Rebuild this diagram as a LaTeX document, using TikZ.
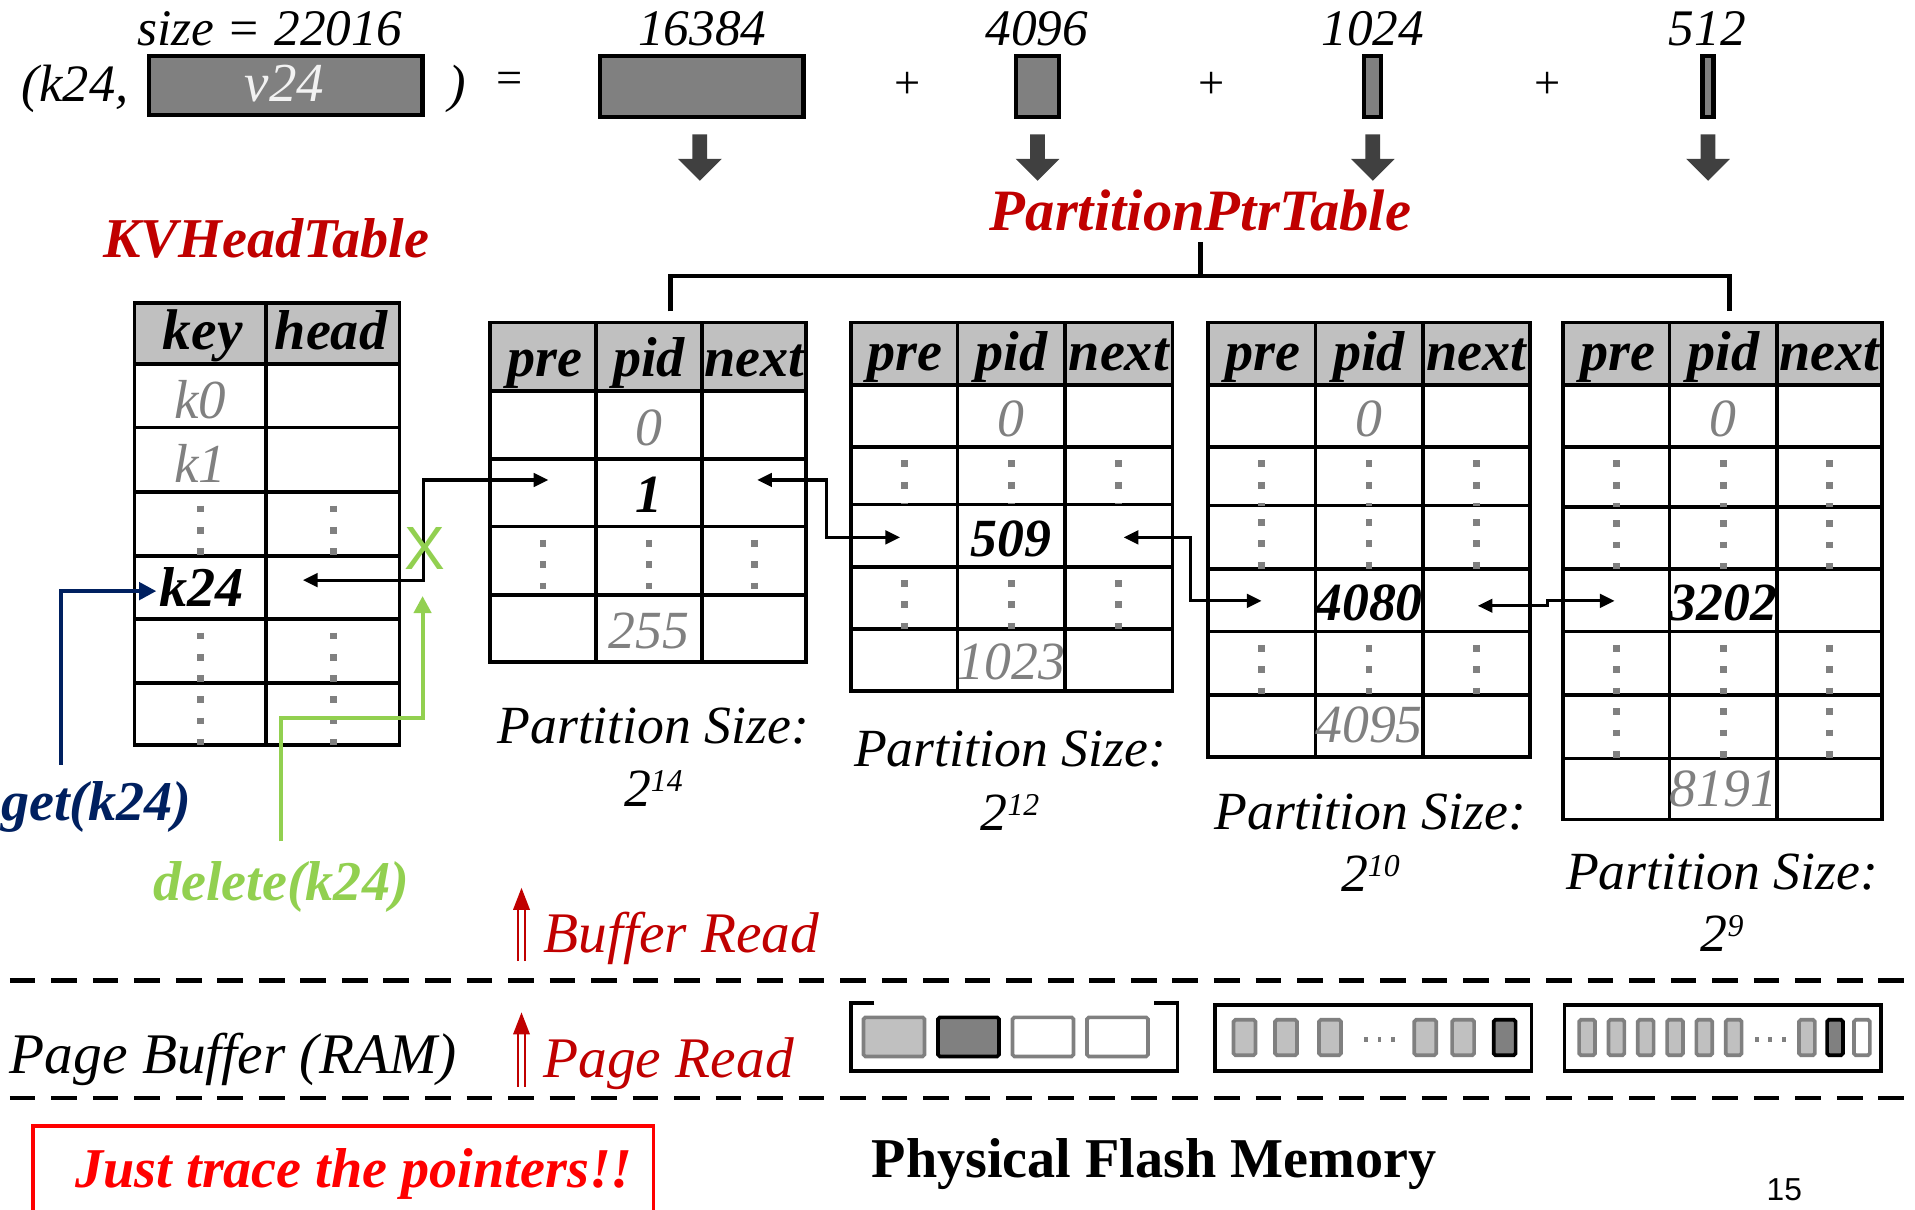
\documentclass[tikz,border=0pt]{standalone}
\usepackage{fontspec}
\setmainfont{Liberation Serif}
\newfontfamily\sansf{Liberation Sans}
\usetikzlibrary{arrows.meta}
\definecolor{hdrgray}{HTML}{C0C0C0}
\definecolor{midgray}{HTML}{808080}
\definecolor{dkgray}{HTML}{404040}
\definecolor{dkred}{HTML}{C00000}
\definecolor{brred}{HTML}{FF0000}
\definecolor{navy}{HTML}{002060}
\definecolor{lgreen}{HTML}{92D050}
\definecolor{offwhite}{HTML}{F2F2F2}
\newcommand\fsz[1]{\fontsize{#1}{#1}\selectfont}
\newcommand\blockarrow[1]{\fill[dkgray] (#1-6,110) -- (#1+6,110) -- (#1+6,130) -- (#1+18,130) -- (#1,148) -- (#1-18,130) -- (#1-6,130) -- cycle;}
\newcommand\dotcell[3]{\draw[dotcol] (#1,#2+11) -- (#1,#3);}
\newcommand\supnum[2]{#1\raisebox{12pt}{\fsz{26}#2}}
\begin{document}
\begin{tikzpicture}[x=1pt,y=-1pt,
  every node/.style={inner sep=0pt,outer sep=0pt,anchor=base},
  tline/.style={line width=3pt,line cap=rect},
  dotcol/.style={draw=midgray,line width=5.5pt,dash pattern=on 5.5pt off 12pt},
  hdrtxt/.style={font=\fsz{46}\bfseries\itshape},
  graynum/.style={font=\fsz{44}\itshape,text=midgray},
  boldnum/.style={font=\fsz{44}\bfseries\itshape},
  itxt/.style={font=\fsz{44}\itshape},
  valbox/.style={draw=black,line width=3.5pt,fill=midgray},
  conn/.style={line width=2.5pt,{Triangle[length=12pt,width=11pt]}-{Triangle[length=12pt,width=11pt]}},
  getconn/.style={draw=navy,line width=3.3pt,-{Triangle[length=14pt,width=14pt]}},
  delconn/.style={draw=lgreen,line width=3.3pt,-{Triangle[length=14pt,width=14pt]}},
  dashsep/.style={line width=4pt,dash pattern=on 21pt off 13pt},
  bufsq/.style={line width=3pt,rounded corners=1.5pt},
  redarrow/.style={draw=dkred,line width=1.6pt}
]
\useasboundingbox (0,0) rectangle (1568,990);

% ---------- top row ----------
\node[font=\fsz{42}\itshape,anchor=base] (sizelbl) at (221,37) {size = 22016};
\node[font=\fsz{43}\itshape,anchor=base west] (kpar) at (18,83) {(k24,};
\draw[valbox] (122,46) rectangle (346,94);
\node[font=\fsz{45}\itshape,text=offwhite] (v24) at (233,83) {v24};
\node[font=\fsz{43}\itshape] (rpar) at (374,83) {)};
\node[font=\fsz{38},anchor=center] (eq) at (417,68) {=};

\node[font=\fsz{42}\itshape] (n16384) at (575,37) {16384};
\draw[valbox] (491,46) rectangle (658,96);
\node[font=\fsz{38},anchor=center] (p1) at (743,70) {+};
\node[font=\fsz{42}\itshape] (n4096) at (849,37) {4096};
\draw[valbox] (832,46) rectangle (867,96);
\node[font=\fsz{38},anchor=center] (p2) at (992,70) {+};
\node[font=\fsz{42}\itshape] (n1024) at (1124,37) {1024};
\draw[valbox] (1117,46) rectangle (1131,96);
\node[font=\fsz{38},anchor=center] (p3) at (1267,70) {+};
\node[font=\fsz{42}\itshape] (n512) at (1398,37) {512};
\draw[valbox] (1394,46) rectangle (1403,96);

\blockarrow{573}
\blockarrow{849.5}
\blockarrow{1124}
\blockarrow{1398.5}

\node[font=\fsz{48}\bfseries\itshape,text=dkred] (ppt) at (983,189) {PartitionPtrTable};
\node[font=\fsz{46}\bfseries\itshape,text=dkred] (kvh) at (218,211) {KVHeadTable};
\coordinate (brtop) at (983,198);
\draw[line width=3.5pt] (brtop) -- (983,226);
\draw[line width=3.5pt] (549,255) -- (549,226) -- (1416,226) -- (1416,255);

% ---------- KV head table ----------
\fill[hdrgray] (110,248) rectangle (327,298);
\foreach \y in {298,350,403,455,507,559} \draw[tline] (110,\y) -- (327,\y);
\draw[tline] (218,248) -- (218,610);
\draw[tline] (110,248) rectangle (327,610);
\foreach \x in {164,273} {\dotcell{\x}{403}{455} \dotcell{\x}{507}{559} \dotcell{\x}{559}{610}}
\node[font=\fsz{47}\bfseries\itshape] (hkey) at (166,286) {key};
\node[hdrtxt] (hhead) at (271,286) {head};
\node[font=\fsz{45}\itshape,text=midgray] (k0) at (164,343) {k0};
\node[font=\fsz{45}\itshape,text=midgray] (k1) at (164,395) {k1};
\node[font=\fsz{46}\bfseries\itshape] (k24) at (165,497) {k24};

% ---------- partition table 1 ----------
\fill[hdrgray] (401,264) rectangle (660,320);
\foreach \y in {320,376,431,487} \draw[tline] (401,\y) -- (660,\y);
\foreach \x in {488,575} \draw[tline] (\x,264) -- (\x,542);
\draw[tline] (401,264) rectangle (660,542);
\foreach \x in {444.5,531.5,617.5} {\dotcell{\x}{431}{487}}
\node[hdrtxt] (t1ha) at (446,308) {pre};
\node[hdrtxt] (t1hb) at (531.5,308) {pid};
\node[hdrtxt] (t1hc) at (617.5,308) {next};
\node[graynum] (t1r0) at (531.5,365) {0};
\node[boldnum] (t1r1) at (531.5,420) {1};
\node[graynum] (t1r2) at (531.5,531) {255};

% ---------- partition table 2 ----------
\fill[hdrgray] (697,264) rectangle (960,315);
\foreach \y in {315,366,413,464,515} \draw[tline] (697,\y) -- (960,\y);
\foreach \x in {784,872} \draw[tline] (\x,264) -- (\x,566);
\draw[tline] (697,264) rectangle (960,566);
\foreach \x in {740.5,828,916} {\dotcell{\x}{366}{413} \dotcell{\x}{464}{515}}
\node[hdrtxt] (t2ha) at (741,303) {pre};
\node[hdrtxt] (t2hb) at (828,303) {pid};
\node[hdrtxt] (t2hc) at (916,303) {next};
\node[graynum] (t2r0) at (828,357) {0};
\node[boldnum] (t2r1) at (828,456) {509};
\node[graynum] (t2r2) at (828,556) {1023};

% ---------- partition table 3 ----------
\fill[hdrgray] (989,264) rectangle (1253,315);
\foreach \y in {315,366,414,466,517,569} \draw[tline] (989,\y) -- (1253,\y);
\foreach \x in {1077,1165} \draw[tline] (\x,264) -- (\x,620);
\draw[tline] (989,264) rectangle (1253,620);
\foreach \x in {1033,1121,1209} {\dotcell{\x}{366}{414} \dotcell{\x}{414}{466} \dotcell{\x}{517}{569}}
\node[hdrtxt] (t3ha) at (1034,303) {pre};
\node[hdrtxt] (t3hb) at (1121,303) {pid};
\node[hdrtxt] (t3hc) at (1209,303) {next};
\node[graynum] (t3r0) at (1121,357) {0};
\node[boldnum] (t3r1) at (1121,508) {4080};
\node[graynum] (t3r2) at (1121,608) {4095};

% ---------- partition table 4 ----------
\fill[hdrgray] (1280,264) rectangle (1541,315);
\foreach \y in {315,366,415,466,517,569,621} \draw[tline] (1280,\y) -- (1541,\y);
\foreach \x in {1367,1455} \draw[tline] (\x,264) -- (\x,671);
\draw[tline] (1280,264) rectangle (1541,671);
\foreach \x in {1323.5,1411,1498} {\dotcell{\x}{366}{415} \dotcell{\x}{415}{466} \dotcell{\x}{517}{569} \dotcell{\x}{569}{621}}
\node[hdrtxt] (t4ha) at (1325,303) {pre};
\node[hdrtxt] (t4hb) at (1411,303) {pid};
\node[hdrtxt] (t4hc) at (1498,303) {next};
\node[graynum] (t4r0) at (1411,357) {0};
\node[boldnum] (t4r1) at (1411,508) {3202};
\node[graynum] (t4r2) at (1411,660) {8191};

% ---------- partition size labels ----------
\node[itxt] (ps1) at (535,609) {Partition Size:};
\node[itxt] (ps1e) at (535,660) {\supnum{2}{14}};
\node[itxt] (ps2) at (827,628) {Partition Size:};
\node[itxt] (ps2e) at (827,680) {\supnum{2}{12}};
\node[itxt] (ps3) at (1122,679) {Partition Size:};
\node[itxt] (ps3e) at (1122,730) {\supnum{2}{10}};
\node[itxt] (ps4) at (1410,728) {Partition Size:};
\node[itxt] (ps4e) at (1410,779) {\supnum{2}{9}};

% ---------- pointers ----------
\coordinate (khead) at (248,475);
\coordinate (t1pre) at (449,393);
\coordinate (t1next) at (620,393);
\coordinate (t2pre) at (737,440);
\coordinate (t2next) at (920,440);
\coordinate (t3pre) at (1033,492);
\coordinate (t3next) at (1210,496);
\coordinate (t4pre) at (1322,492);
\draw[conn] (khead) -- ++(99,0) |- (t1pre);
\draw[conn] (t1next) -- ++(57,0) |- (t2pre);
\draw[conn] (t2next) -- ++(55,0) |- (t3pre);
\draw[conn] (t3next) -- ++(57,0) |- (t4pre);

\node[font=\sansf\fsz{50},text=lgreen,anchor=center] (xmark) at (348,449) {X};

\node[font=\fsz{46}\bfseries\itshape,text=navy,anchor=base west] (get) at (1,672) {get(k24)};
\coordinate (getstart) at (50,626);
\coordinate (k24in) at (128,484);
\draw[getconn] (getstart) |- (k24in);

\node[font=\fsz{46}\bfseries\itshape,text=lgreen] (del) at (230,737) {delete(k24)};
\coordinate (delstart) at (230,689);
\coordinate (delbend) at (230,588);
\coordinate (xin) at (346,488);
\draw[delconn] (delstart) -- (delbend) -| (xin);

% ---------- read arrows & labels ----------
\draw[redarrow] (424,787) -- (424,744);
\draw[redarrow] (430,787) -- (430,744);
\fill[dkred] (420,745) -- (434,745) -- (427,727) -- cycle;
\node[font=\fsz{47}\itshape,text=dkred,anchor=base west] (bufread) at (445,780) {Buffer Read};

\draw[dashsep] (8,803) -- (1560,803);

\node[font=\fsz{47}\itshape,anchor=base west] (pbuf) at (8,879) {Page Buffer (RAM)};
\draw[redarrow] (424,890) -- (424,846);
\draw[redarrow] (430,890) -- (430,846);
\fill[dkred] (420,847) -- (434,847) -- (427,829) -- cycle;
\node[font=\fsz{47}\itshape,text=dkred,anchor=base west] (pgread) at (445,882) {Page Read};

% page buffers
\draw[line width=3pt] (716,821) -- (697,821) -- (697,877) -- (964,877) -- (964,821) -- (945,821);
\draw[bufsq,draw=midgray,fill=hdrgray] (707,833) rectangle (757,865);
\draw[bufsq,draw=black,fill=midgray] (768,833) rectangle (818,865);
\draw[bufsq,draw=midgray,fill=white] (829,833) rectangle (879,865);
\draw[bufsq,draw=midgray,fill=white] (890,833) rectangle (940,865);

\draw[line width=3pt] (995,823) rectangle (1254,877);
\foreach \x in {1010,1044,1080,1158,1189}
  \draw[bufsq,draw=midgray,fill=hdrgray] (\x,835) rectangle (\x+18,864);
\draw[bufsq,draw=black,fill=midgray] (1223,835) rectangle (1241,864);
\foreach \x in {1117,1128,1139} \fill[midgray] (\x,849) rectangle (\x+3,853);

\draw[line width=3pt] (1281,823) rectangle (1540,877);
\foreach \x in {1293,1317,1341,1365,1389,1413,1473}
  \draw[bufsq,draw=midgray,fill=hdrgray] (\x,835) rectangle (\x+13,864);
\draw[bufsq,draw=black,fill=midgray] (1496,835) rectangle (1509,864);
\draw[bufsq,draw=midgray,fill=white] (1518,835) rectangle (1531,864);
\foreach \x in {1437,1448,1459} \fill[midgray] (\x,849) rectangle (\x+3,853);

\draw[dashsep] (8,899) -- (1560,899);

% ---------- bottom ----------
\draw[draw=brred,line width=3pt] (27,992) -- (27,922) -- (535,922) -- (535,992);
\node[font=\fsz{46}\bfseries\itshape,text=brred] (trace) at (290,972) {Just trace the pointers!!};
\node[font=\fsz{46}\bfseries] (flash) at (945,964) {Physical Flash Memory};
\node[font=\sansf\fsz{26}] (pgno) at (1461,983) {15};
\end{tikzpicture}
\end{document}
